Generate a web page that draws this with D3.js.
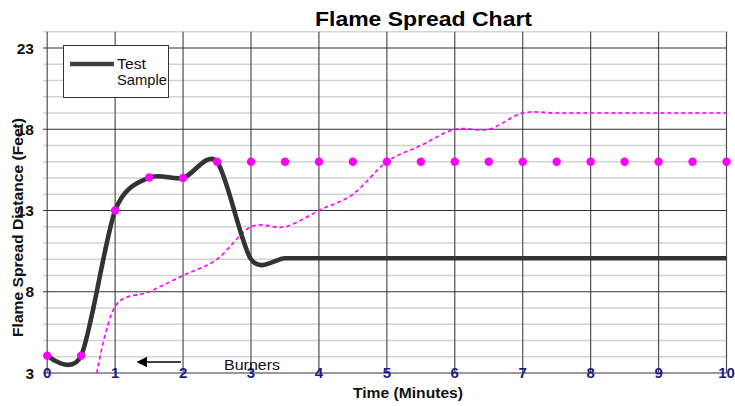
<!DOCTYPE html>
<html><head><meta charset="utf-8">
<script src="https://cdn.jsdelivr.net/npm/d3@7"></script>
<style>
body{margin:0;background:#fff}
svg{display:block;font-family:"Liberation Sans",Arial,sans-serif}
</style>
</head><body>
<svg id="chart" width="735" height="406"></svg>
<script>
// ---- data ----
const xTickValues = [0,1,2,3,4,5,6,7,8,9,10];
const yTickLabels = [3,8,13,18,23];
const testTime = [0,0.5,1,1.5,2,2.5,3,3.5,4,4.5,5,5.5,6,6.5,7,7.5,8,8.5,9,9.5,10];
const testDist = [4.07,4.07,13,15.03,15,16,10,10.06,10.06,10.06,10.06,10.06,10.06,10.06,10.06,10.06,10.06,10.06,10.06,10.06,10.06];
const markerTime = [0,0.5,1,1.5,2,2.5,3,3.5,4,4.5,5,5.5,6,6.5,7,7.5,8,8.5,9,9.5,10];
const markerDist = [4.07,4.07,13,15.03,15,16,16,16,16,16,16,16,16,16,16,16,16,16,16,16,16];
const limitTime = [0.73,1,1.5,2,2.5,3,3.5,4,4.5,5,5.5,6,6.5,7,7.5,8,8.5,9,9.5,10];
const limitDist = [3,7.1,8,9,10,12,12,13,14,16,17,18,18,19,19,19,19,19,19,19];
const titleText = "Flame Spread Chart";
const xTitle = "Time (Minutes)";
const yTitle = "Flame Spread Distance (Feet)";
const legendLabel = ["Test","Sample"];
const burnerLabel = "Burners";

// ---- layout ----
const svg = d3.select("#chart");
const x = d3.scaleLinear().domain([0,10]).range([47.2,726.5]);
const y = d3.scaleLinear().domain([3,24]).range([373,31.8]);

svg.append("defs").append("marker")
  .attr("id","ah").attr("viewBox","0 0 10 10").attr("refX",1).attr("refY",5)
  .attr("markerWidth",7).attr("markerHeight",7).attr("orient","auto-start-reverse")
  .append("path").attr("d","M0,0 L10,5 L0,10 z").attr("fill","#000");

const g = svg.append("g");

const minor = d3.range(4,25).filter(v => (v-3)%5 !== 0);
g.selectAll("line.minor").data(minor).join("line")
  .attr("x1",43).attr("x2",x(10)).attr("y1",d=>y(d)).attr("y2",d=>y(d))
  .attr("stroke","#d4d4d4").attr("stroke-width",1.4);

g.selectAll("line.v").data(xTickValues).join("line")
  .attr("x1",d=>x(d)).attr("x2",d=>x(d)).attr("y1",y(24)).attr("y2",y(3))
  .attr("stroke","#505050").attr("stroke-width",1.2);

g.selectAll("line.major").data(yTickLabels).join("line")
  .attr("x1",43).attr("x2",x(10)).attr("y1",d=>y(d)).attr("y2",d=>y(d))
  .attr("stroke",d=>d===3?"#777":"#333").attr("stroke-width",d=>d===3?1.5:1.1);

g.selectAll("text.yl").data(yTickLabels).join("text")
  .attr("x",34).attr("y",d=>y(d)).attr("dy","0.36em")
  .attr("text-anchor","end").attr("font-weight","bold").attr("font-size",15.5)
  .attr("fill","#111").text(d=>d);

g.selectAll("text.xl").data(xTickValues).join("text")
  .attr("x",d=>x(d)).attr("y",y(3)).attr("dy","0.36em")
  .attr("text-anchor","middle").attr("font-weight","bold").attr("font-size",15)
  .attr("fill","#1c1c88").text(d=>d);

svg.append("text").attr("x",423.5).attr("y",26).attr("text-anchor","middle")
  .attr("font-weight","bold").attr("font-size",20).attr("fill","#000")
  .attr("textLength",217).attr("lengthAdjust","spacingAndGlyphs").text(titleText);
svg.append("text").attr("x",408).attr("y",398).attr("text-anchor","middle")
  .attr("font-weight","bold").attr("font-size",14).attr("fill","#111")
  .attr("textLength",110).attr("lengthAdjust","spacingAndGlyphs").text(xTitle);
svg.append("text").attr("transform","translate(23,227.5) rotate(-90)").attr("text-anchor","middle")
  .attr("font-weight","bold").attr("font-size",14).attr("fill","#111")
  .attr("textLength",219).attr("lengthAdjust","spacingAndGlyphs").text(yTitle);

const limitData = limitTime.map((t,i)=>[t,limitDist[i]]);
g.append("path").datum(limitData)
  .attr("d", d3.line().x(d=>x(d[0])).y(d=>y(d[1])).curve(d3.curveCardinal.tension(0)))
  .attr("fill","none").attr("stroke","#ff00ff").attr("stroke-width",1.6)
  .attr("stroke-dasharray","4,3");

const testData = testTime.map((t,i)=>[t,testDist[i]]);
g.append("path").datum(testData)
  .attr("d", d3.line().x(d=>x(d[0])).y(d=>y(d[1])).curve(d3.curveCardinal.tension(0.15)))
  .attr("fill","none").attr("stroke","#333").attr("stroke-width",4.6)
  .attr("stroke-linejoin","round");

const markerData = markerTime.map((t,i)=>[t,markerDist[i]]);
g.selectAll("circle.m").data(markerData).join("circle")
  .attr("cx",d=>x(d[0])).attr("cy",d=>y(d[1])).attr("r",4.2).attr("fill","#ff00ff");

g.append("line").attr("x1",181).attr("x2",146).attr("y1",362).attr("y2",362)
  .attr("stroke","#000").attr("stroke-width",1.5).attr("marker-end","url(#ah)");
g.append("text").attr("x",224).attr("y",370).attr("font-size",15).attr("fill","#111")
  .attr("textLength",56).attr("lengthAdjust","spacingAndGlyphs").text(burnerLabel);

const lg = svg.append("g");
lg.append("rect").attr("x",63.5).attr("y",45.5).attr("width",105).attr("height",52)
  .attr("fill","#fff").attr("stroke","#333").attr("stroke-width",1);
lg.append("line").attr("x1",70).attr("x2",114).attr("y1",64).attr("y2",64)
  .attr("stroke","#404040").attr("stroke-width",4.6);
lg.selectAll("text").data(legendLabel).join("text")
  .attr("x",117).attr("y",(d,i)=>69+i*16).attr("font-size",14.5).attr("fill","#111")
  .attr("textLength",(d,i)=>i===0?29:50).attr("lengthAdjust","spacingAndGlyphs").text(d=>d);
</script>
</body></html>
